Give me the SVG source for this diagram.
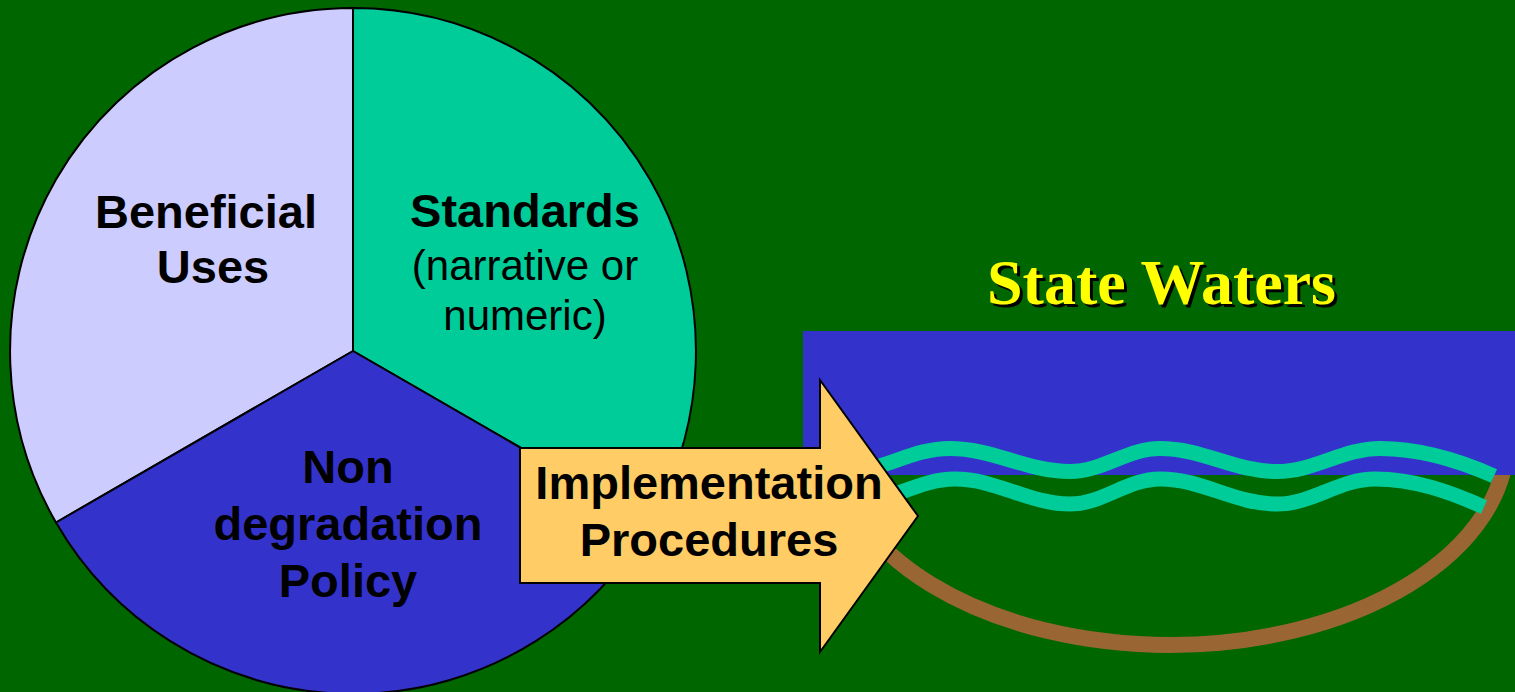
<svg xmlns="http://www.w3.org/2000/svg" width="1515" height="692" viewBox="0 0 1515 692">
  <style>
    .slice { stroke: #000000; stroke-width: 2; stroke-linejoin: round; }
    .bold { font-family: "Liberation Sans", Arial, sans-serif; font-weight: bold; font-size: 47px; fill: #000000; text-anchor: middle; }
    .plain { font-family: "Liberation Sans", Arial, sans-serif; font-size: 42px; fill: #000000; text-anchor: middle; }
    .title { font-family: "Liberation Serif", "Times New Roman", serif; font-weight: bold; font-size: 64px; text-anchor: middle; }
    .wave { fill: none; stroke: #00CC99; stroke-width: 15; stroke-linecap: butt; }
  </style>

  <!-- background -->
  <rect x="0" y="0" width="1515" height="692" fill="#006600"/>

  <!-- pie chart: three equal wedges around (353,351), r = 343 -->
  <g id="beneficial-uses">
    <path class="slice" fill="#CCCCFF" d="M353,351 L353,8 A343,343 0 0 0 56,522.5 Z"/>
    <text class="bold" x="206" y="228">Beneficial</text>
    <text class="bold" x="213" y="283">Uses</text>
  </g>
  <g id="standards">
    <path class="slice" fill="#00CC99" d="M353,351 L353,8 A343,343 0 0 1 650,522.5 Z"/>
    <text class="bold" x="525" y="227">Standards</text>
    <text class="plain" x="525" y="280">(narrative or</text>
    <text class="plain" x="525" y="330">numeric)</text>
  </g>
  <g id="nondegradation-policy">
    <path class="slice" fill="#3333CC" d="M353,351 L650,522.5 A343,343 0 0 1 56,522.5 Z"/>
    <text class="bold" x="348" y="483">Non</text>
    <text class="bold" x="348" y="540">degradation</text>
    <text class="bold" x="348" y="597">Policy</text>
  </g>

  <!-- state waters: stream bed, water body and surface ripples -->
  <g id="state-waters">
    <path d="M1507,440 A337,205 0 0 1 833,440" fill="none" stroke="#996633" stroke-width="16"/>
    <rect x="803" y="331" width="712" height="144" fill="#3333CC"/>
    <path class="wave" d="M845,471.5 C885,471.5 910,448.5 950,448.5 C993,448.5 1027,471.5 1070,471.5 C1103,471.5 1127,448.5 1160,448.5 C1203,448.5 1234,471.5 1277,471.5 C1314,471.5 1343,448.5 1380,448.5 C1420,448.5 1458,460 1494,476"/>
    <path class="wave" d="M850,504 C888,504 917,479 955,479 C997,479 1028,504 1070,504 C1103,504 1127,479 1160,479 C1203,479 1234,504 1277,504 C1313,504 1339,479 1375,479 C1415,479 1450,492 1484,507"/>
    <text class="title" x="1164.5" y="307" fill="#000000">State Waters</text>
    <text class="title" x="1161.5" y="304" fill="#FFFF00">State Waters</text>
  </g>

  <!-- block arrow linking the pie to the waters -->
  <g id="implementation-procedures">
    <polygon points="520,448 820,448 820,380 918,516 820,652 820,583 520,583" fill="#FFCC66" stroke="#000000" stroke-width="2" stroke-linejoin="miter"/>
    <text class="bold" x="709" y="499">Implementation</text>
    <text class="bold" x="709" y="556">Procedures</text>
  </g>
</svg>
